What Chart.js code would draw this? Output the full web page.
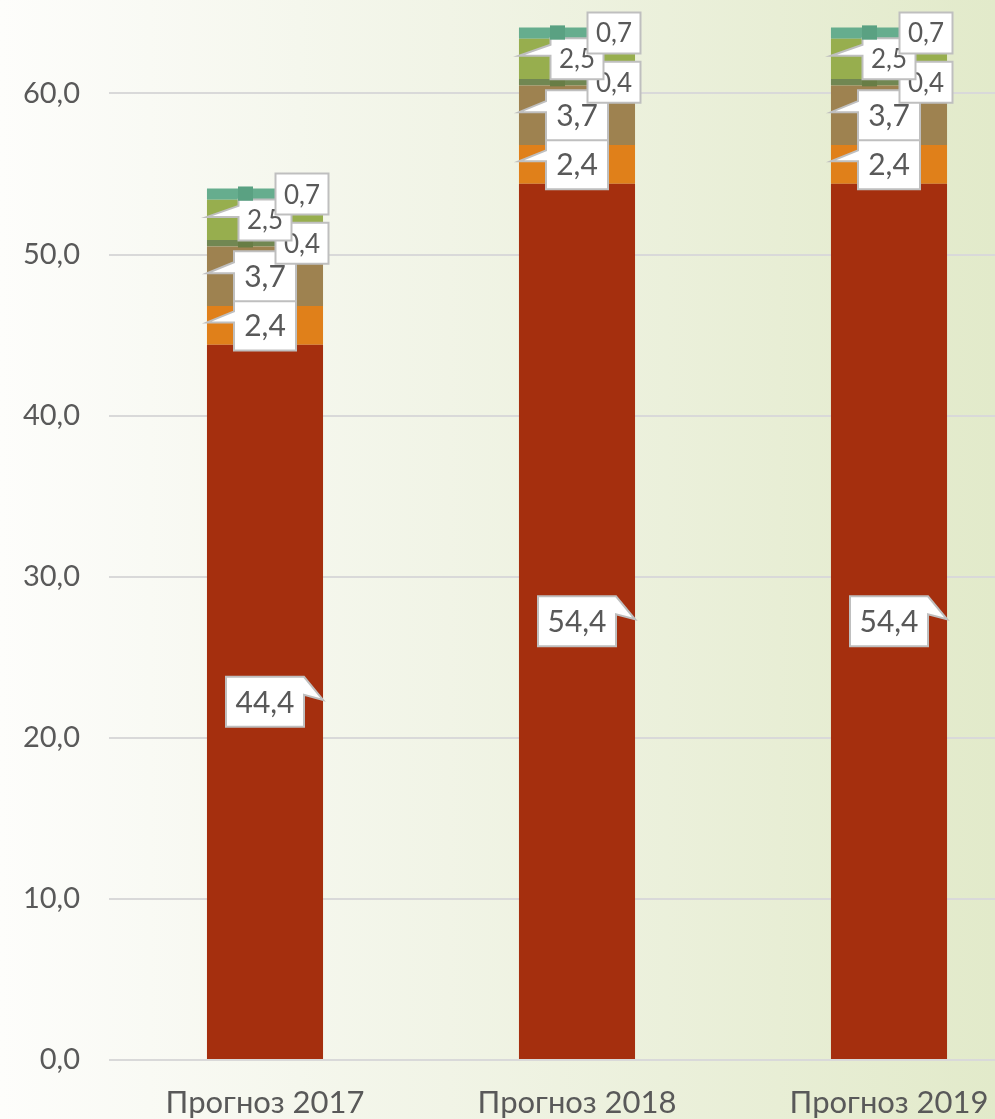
<!DOCTYPE html>
<html>
<head>
<meta charset="utf-8">
<script src="https://cdn.jsdelivr.net/npm/chart.js@4"></script>
<style>
  html, body { margin: 0; padding: 0; overflow: hidden; }
  body { width: 995px; height: 1119px; background: linear-gradient(to right, #fdfdfb 0%, #f1f4e6 45%, #e2eaca 100%); }
  #wrap { position: absolute; left: 0; top: 0; }
</style>
</head>
<body>
<div id="wrap"><canvas id="forecast" width="1045" height="1119"></canvas></div>
<script>
// categories and series
const categories = ['Прогноз 2017', 'Прогноз 2018', 'Прогноз 2019'];
const seriesA = [44.4, 54.4, 54.4];
const seriesB = [2.4, 2.4, 2.4];
const seriesC = [3.7, 3.7, 3.7];
const seriesD = [0.4, 0.4, 0.4];
const seriesE = [2.5, 2.5, 2.5];
const seriesF = [0.7, 0.7, 0.7];
const yTicks = [0, 10, 20, 30, 40, 50, 60];

const colors = ['#a52f0e', '#e0801a', '#9e8250', '#718752', '#97ae4e', '#66ad8e'];
const marks = [null, null, null, '#687d45', null, '#5aa182'];
// label style per series: pointer side, font size, x offset, box size
const labelStyle = [
    { pointer: 'right', size: 30, dx: 0, w: 78, h: 50 },
    { pointer: 'left', size: 30, dx: 0, w: 62, h: 50 },
    { pointer: 'left', size: 30, dx: 0, w: 62, h: 50 },
    { pointer: 'none', size: 26, dx: 37, w: 53, h: 41 },
    { pointer: 'left', size: 26, dx: 0, w: 53, h: 41 },
    { pointer: 'none', size: 26, dx: 37, w: 53, h: 41 }
];

const fmt = v => v.toFixed(1).replace('.', ',');
const FONT = 'Lato, "Open Sans", sans-serif';

const calloutPlugin = {
    id: 'callouts',
    afterDatasetsDraw(chart) {
        const ctx = chart.ctx;
        chart.data.datasets.forEach((ds, di) => {
            const meta = chart.getDatasetMeta(di);
            const st = labelStyle[di];
            meta.data.forEach((bar, i) => {
                const p = bar.getProps(['x', 'y', 'base', 'width'], true);
                const cy = (p.y + p.base) / 2;
                const left = p.x - p.width / 2, right = p.x + p.width / 2;
                if (marks[di]) {
                    ctx.fillStyle = marks[di];
                    ctx.fillRect(p.x - 27, Math.min(p.y, p.base) - 2, 15, Math.abs(p.base - p.y) + 3);
                }
                ctx.save();
                ctx.font = st.size + 'px ' + FONT;
                const txt = fmt(ds.data[i]);
                const bw = st.w, bh = st.h;
                const cx = p.x + st.dx;
                const bx = cx - bw / 2, by = cy - bh / 2;
                ctx.beginPath();
                ctx.moveTo(bx, by);
                if (st.pointer === 'right') {
                    ctx.lineTo(bx + bw, by);
                    ctx.lineTo(right, cy - 2);
                    ctx.lineTo(bx + bw, cy - 7);
                    ctx.lineTo(bx + bw, by + bh);
                    ctx.lineTo(bx, by + bh);
                    ctx.closePath();
                } else if (st.pointer === 'left') {
                    ctx.lineTo(bx + bw, by);
                    ctx.lineTo(bx + bw, by + bh);
                    ctx.lineTo(bx, by + bh);
                    ctx.lineTo(bx, cy - 3);
                    ctx.lineTo(left, cy - 3);
                    ctx.lineTo(bx, cy - 14);
                    ctx.closePath();
                } else {
                    ctx.rect(bx, by, bw, bh);
                }
                ctx.fillStyle = '#ffffff';
                ctx.fill();
                ctx.lineWidth = 2;
                ctx.strokeStyle = '#bfbfbf';
                ctx.stroke();
                ctx.fillStyle = '#595959';
                ctx.textAlign = 'center';
                ctx.textBaseline = 'middle';
                ctx.fillText(txt, cx, cy + 1);
                ctx.restore();
            });
        });
    }
};

const seriesList = [seriesA, seriesB, seriesC, seriesD, seriesE, seriesF];

new Chart(document.getElementById('forecast'), {
    type: 'bar',
    data: {
        labels: categories,
        datasets: seriesList.map((s, k) => ({
            data: s,
            backgroundColor: colors[k],
            borderWidth: 0,
            categoryPercentage: 1,
            barPercentage: 0.372
        }))
    },
    options: {
        responsive: false,
        animation: false,
        layout: { padding: 0 },
        plugins: { legend: { display: false }, tooltip: { enabled: false } },
        scales: {
            x: {
                stacked: true,
                grid: { display: false, drawTicks: false },
                border: { display: false },
                ticks: { color: '#595959', font: { family: FONT, size: 31 }, padding: 24 },
                afterFit(scale) { scale.height = 59; scale.paddingLeft = 0; scale.paddingRight = 0; }
            },
            y: {
                stacked: true,
                min: 0,
                max: 65.8,
                afterBuildTicks(scale) { scale.ticks = yTicks.map(v => ({ value: v })); },
                afterFit(scale) { scale.width = 109; scale.paddingTop = 0; scale.paddingBottom = 0; },
                grid: { color: '#d9d9d9', lineWidth: 2, drawTicks: false },
                border: { display: false },
                ticks: {
                    color: '#595959',
                    font: { family: FONT, size: 29 },
                    padding: 29,
                    callback: v => fmt(v)
                }
            }
        }
    },
    plugins: [calloutPlugin]
});
</script>
</body>
</html>
